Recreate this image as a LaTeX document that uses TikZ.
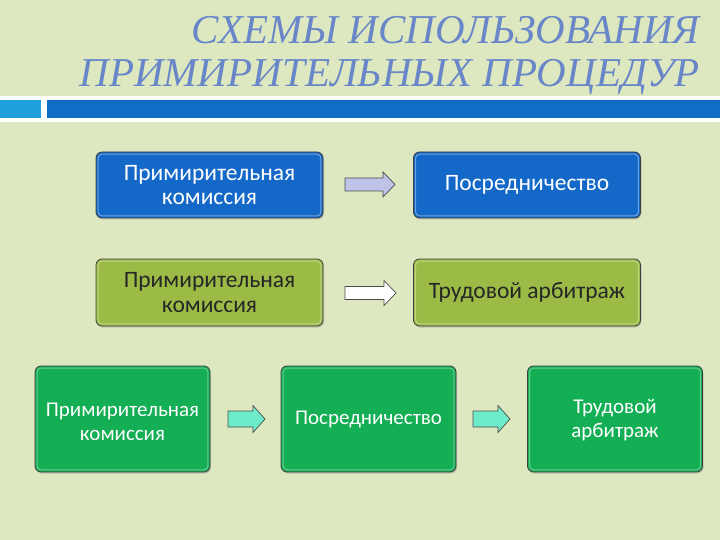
\documentclass[tikz,border=0pt]{standalone}
\usepackage{fontspec}
\setmainfont{Carlito}
\newfontfamily\titlefont{Liberation Serif}
\usetikzlibrary{shadows}
\definecolor{bg}{RGB}{221,232,192}
\definecolor{titleblue}{RGB}{104,134,200}
\definecolor{barblue}{RGB}{16,108,196}
\definecolor{barlight}{RGB}{30,160,220}
\definecolor{boxblue}{RGB}{20,104,200}
\definecolor{boxolive}{RGB}{155,187,70}
\definecolor{boxgreen}{RGB}{20,175,85}
\definecolor{arrlav}{RGB}{190,196,232}
\definecolor{arraqua}{RGB}{110,235,200}
\tikzset{
  boxbase/.style={draw=black!75, line width=0.8pt, rounded corners=6pt, align=center,
    inner sep=0pt, drop shadow={shadow xshift=1pt,shadow yshift=-1.5pt,opacity=0.35}},
  bluebox/.style={boxbase, fill=boxblue, text=white, minimum width=227pt, minimum height=66pt, font=\fontsize{23.5}{24.5}\selectfont},
  olivebox/.style={boxbase, fill=boxolive, text=black!85, minimum width=227pt, minimum height=67pt, font=\fontsize{23.5}{24.5}\selectfont},
  greenbox/.style={boxbase, fill=boxgreen, text=white, minimum width=175pt, minimum height=106pt, font=\fontsize{21}{23.5}\selectfont},
  greentext/.style={align=center, inner sep=0pt, text=white, font=\fontsize{21}{23.5}\selectfont},
  glow/.style={rounded corners=4pt, line width=1pt, draw opacity=0.7},
  blockarrow/.style={draw=black!70, line width=0.7pt, line join=miter}
}
% #1 coordinate name, #2 length, #3 shaft half width, #4 head half width, #5 head length, #6 style
\newcommand{\blockarrowat}[6]{%
  \draw[blockarrow,#6] ([yshift=-#3]#1) -- ++(#2-#5,0) -- ++(0,#3-#4) -- ([xshift=#2]#1) --
    ([shift={(#2-#5,#4)}]#1) -- ++(0,#3-#4) -- ([yshift=#3]#1) -- cycle;}
\newcommand{\innerglow}[2]{%
  \draw[glow,#2] ([shift={(2.5pt,-2.5pt)}]#1.north west) rectangle ([shift={(-2.5pt,2.5pt)}]#1.south east);}
\begin{document}
\begin{tikzpicture}[x=1pt,y=-1pt]
\useasboundingbox (0,0) rectangle (720,540);
\fill[bg] (0,0) rectangle (720,540);
% title
\node[anchor=base east, inner sep=0pt, text=titleblue, font=\titlefont\itshape\fontsize{41}{44}\selectfont] (t1) at (700,44) {СХЕМЫ ИСПОЛЬЗОВАНИЯ};
\node[anchor=base east, inner sep=0pt, text=titleblue, font=\titlefont\itshape\fontsize{41}{44}\selectfont] (t2) at (700,87) {ПРИМИРИТЕЛЬНЫХ ПРОЦЕДУР};
% bar
\fill[white] (0,96) rectangle (720,122);
\fill[barlight] (0,100) rectangle (41,118);
\fill[barblue] (47,100) rectangle (720,118);
% row 1
\node[bluebox] (a1) at (209.5,185) {Примирительная\\комиссия};
\node[bluebox] (a2) at (527,185) {Посредничество};
\innerglow{a1}{draw=white!55!boxblue}
\innerglow{a2}{draw=white!55!boxblue}
\coordinate (ar1) at (345,184.5);
\blockarrowat{ar1}{50pt}{6.5pt}{12.5pt}{12pt}{fill=arrlav}
% row 2
\node[olivebox] (b1) at (209.5,292.5) {Примирительная\\комиссия};
\node[olivebox] (b2) at (527,292.5) {Трудовой арбитраж};
\innerglow{b1}{draw=white!50!boxolive}
\innerglow{b2}{draw=white!50!boxolive}
\coordinate (br1) at (345,293);
\blockarrowat{br1}{51pt}{6.5pt}{12.5pt}{12pt}{fill=white}
% row 3
\node[greenbox] (c1) at (122.5,419) {};
\node[greentext] (c1t) at (122.5,422) {Примирительная\\комиссия};
\node[greenbox] (c2) at (368.5,419) {Посредничество};
\node[greenbox] (c3) at (615,419) {};
\node[greentext] (c3t) at (615,420) {Трудовой\\арбитраж};
\innerglow{c1}{draw=white!50!boxgreen}
\innerglow{c2}{draw=white!50!boxgreen}
\innerglow{c3}{draw=white!50!boxgreen}
\coordinate (cr1) at (228,419);
\coordinate (cr2) at (473,419);
\blockarrowat{cr1}{37pt}{8pt}{13.5pt}{12pt}{fill=arraqua}
\blockarrowat{cr2}{37pt}{8pt}{13.5pt}{12pt}{fill=arraqua}
\end{tikzpicture}
\end{document}
